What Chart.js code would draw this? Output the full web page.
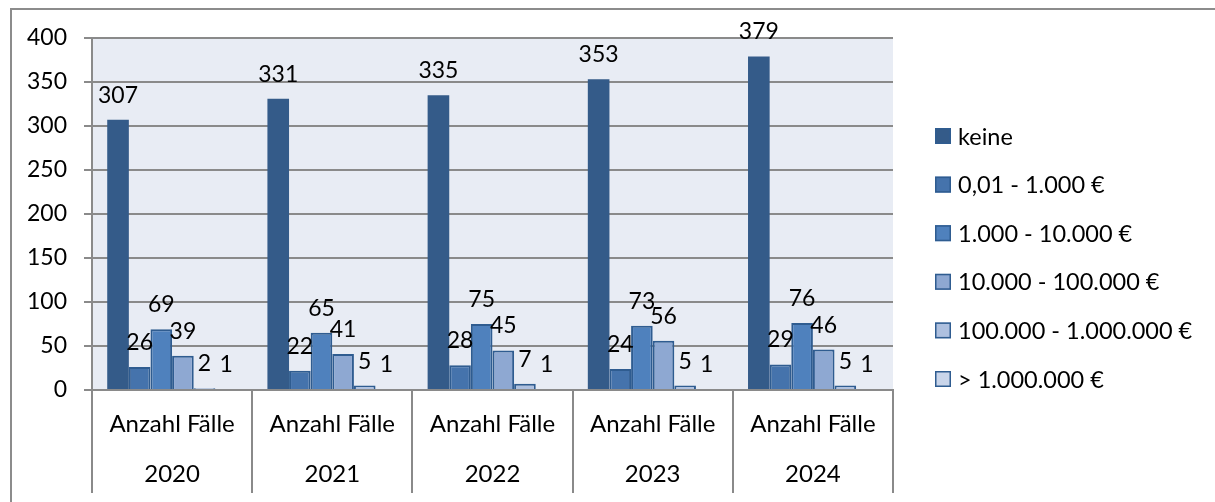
<!DOCTYPE html>
<html lang="de">
<head>
<meta charset="utf-8">
<script src="https://cdn.jsdelivr.net/npm/chart.js@4.4.1/dist/chart.umd.min.js"></script>
<style>
  html, body { margin: 0; padding: 0; background: #fff; overflow: hidden; }
  #wrap { position: relative; width: 1215px; height: 502px; }
  #frame { position: absolute; left: 10px; top: 8px; width: 1400px; height: 800px;
           border-top: 2px solid #8c8c8c; border-left: 2px solid #8c8c8c; }
  canvas { position: absolute; left: 0; top: 0; }
</style>
</head>
<body>
<div id="wrap">
  <div id="frame"></div>
  <canvas id="chart" width="1215" height="502"></canvas>
</div>
<script>
// ─── DATEN ──────────────────────────────────
const jahre = ['2020', '2021', '2022', '2023', '2024'];
const kategorie = 'Anzahl Fälle';
const stufen = ['keine', '0,01 - 1.000 €', '1.000 - 10.000 €', '10.000 - 100.000 €', '100.000 - 1.000.000 €', '> 1.000.000 €'];

const keine = [307, 331, 335, 353, 379];
const bis1000 = [26, 22, 28, 24, 29];
const bis10000 = [69, 65, 75, 73, 76];
const bis100000 = [39, 41, 45, 56, 46];
const bis1mio = [2, 5, 7, 5, 5];
const ueber1mio = [1, 1, 1, 1, 1];

const yTicks = [0, 50, 100, 150, 200, 250, 300, 350, 400];

// ─── STIL ──────────────────────────────────
const farben = ['#345b89', '#4573ac', '#4f81bd', '#8ea8d2', '#aec0df', '#c9d5ea'];
const rahmen = '#2f5c90';
const gitter = '#8a8a8a';
const schrift = 'Lato, "Open Sans", sans-serif';
const textFarbe = '#000';

const werte = [keine, bis1000, bis10000, bis100000, bis1mio, ueber1mio];

const datasets = stufen.map((label, i) => ({
  label,
  data: werte[i],
  backgroundColor: farben[i],
  borderColor: i === 0 ? farben[0] : rahmen,
  borderWidth: i === 0 ? 0 : 2,
  categoryPercentage: 0.81,
  barPercentage: 1.0
}));

// Hintergrund der Zeichenfläche
const plotBg = {
  id: 'plotBg',
  beforeDraw(chart) {
    const { ctx, chartArea: a } = chart;
    ctx.save();
    ctx.fillStyle = '#e8ecf4';
    ctx.fillRect(a.left, a.top, a.right - a.left, a.bottom - a.top);
    ctx.restore();
  }
};

// Werte über den Balken
const werteLabels = {
  id: 'werteLabels',
  afterDatasetsDraw(chart) {
    const ctx = chart.ctx;
    ctx.save();
    ctx.font = '23px ' + schrift;
    ctx.fillStyle = textFarbe;
    ctx.textAlign = 'center';
    ctx.textBaseline = 'alphabetic';
    chart.data.datasets.forEach((ds, i) => {
      chart.getDatasetMeta(i).data.forEach((bar, j) => {
        ctx.fillText(String(ds.data[j]), bar.x, bar.y - 17);
      });
    });
    ctx.restore();
  }
};

// Legende rechts
const legende = {
  id: 'legende',
  afterDraw(chart) {
    const ctx = chart.ctx;
    ctx.save();
    ctx.font = '23.5px ' + schrift;
    ctx.textBaseline = 'middle';
    ctx.textAlign = 'left';
    chart.data.datasets.forEach((ds, i) => {
      const y = 136 + i * 48.6;
      ctx.fillStyle = ds.backgroundColor;
      ctx.fillRect(935, y - 8, 16, 16);
      ctx.strokeStyle = rahmen;
      ctx.lineWidth = 1.5;
      ctx.strokeRect(935.75, y - 7.25, 14.5, 14.5);
      ctx.fillStyle = textFarbe;
      ctx.fillText(ds.label, 958, y + 1);
    });
    ctx.restore();
  }
};

new Chart(document.getElementById('chart'), {
  type: 'bar',
  data: {
    labels: jahre.map(j => [kategorie, j]),
    datasets
  },
  options: {
    responsive: false,
    animation: false,
    layout: { padding: { top: 38, right: 322, left: 0, bottom: 0 } },
    plugins: { legend: { display: false }, tooltip: { enabled: false } },
    scales: {
      x: {
        grid: { drawOnChartArea: false, drawTicks: true, tickLength: 103, color: gitter, lineWidth: 2, offset: true },
        border: { display: true, color: gitter, width: 2 },
        ticks: { color: textFarbe, padding: -94, font: { family: schrift, size: 24, lineHeight: 2.1 }, maxRotation: 0 },
        afterFit(scale) { scale.height = 112; }
      },
      y: {
        min: 0,
        max: 400,
        afterBuildTicks(scale) { scale.ticks = yTicks.map(v => ({ value: v })); },
        grid: { color: gitter, lineWidth: 2, tickLength: 8 },
        border: { display: true, color: gitter, width: 2 },
        ticks: { color: textFarbe, padding: 17, font: { family: schrift, size: 23 } },
        afterFit(scale) { scale.width = 92; }
      }
    }
  },
  plugins: [plotBg, werteLabels, legende]
});
</script>
</body>
</html>
